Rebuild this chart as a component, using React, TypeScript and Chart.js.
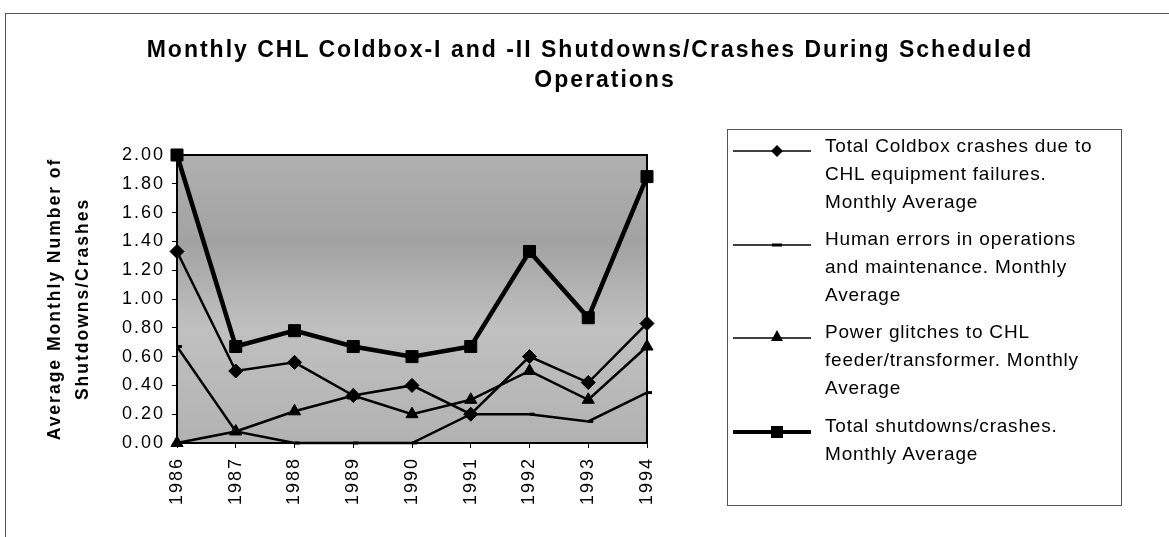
import React, { useEffect, useRef } from 'react';
import { Chart, registerables } from 'chart.js';

Chart.register(...registerables);

const years = ['1986', '1987', '1988', '1989', '1990', '1991', '1992', '1993', '1994'];
const coldboxCrashes = [1.33, 0.5, 0.56, 0.33, 0.4, 0.2, 0.6, 0.42, 0.83];
const humanErrors = [0.67, 0.08, 0.0, 0.0, 0.0, 0.2, 0.2, 0.15, 0.35];
const powerGlitches = [0.0, 0.08, 0.22, 0.33, 0.2, 0.3, 0.5, 0.3, 0.67];
const totalShutdowns = [2.0, 0.67, 0.78, 0.67, 0.6, 0.67, 1.33, 0.87, 1.85];

const yMin = 0;
const yMax = 2;
const yStep = 0.2;

const titleLine1 = 'Monthly CHL Coldbox-I and -II Shutdowns/Crashes During Scheduled';
const titleLine2 = 'Operations';
const yAxisTitle = ['Average Monthly Number of', 'Shutdowns/Crashes'];

const legendLabels = [
  ['Total Coldbox crashes due to', 'CHL equipment failures.', 'Monthly Average'],
  ['Human errors in operations', 'and maintenance. Monthly', 'Average'],
  ['Power glitches to CHL', 'feeder/transformer. Monthly', 'Average'],
  ['Total shutdowns/crashes.', 'Monthly Average'],
];

const FONT = '"Liberation Sans", Arial, Helvetica, sans-serif';

const plotFrame = {
  id: 'plotFrame',
  beforeUpdate(chart: any) {
    try {
      chart.ctx.letterSpacing = '2px';
    } catch (e) {}
  },
  beforeDraw(chart: any) {
    const { ctx, chartArea } = chart;
    const h = chartArea.bottom - chartArea.top;
    ctx.save();
    const g = ctx.createLinearGradient(0, chartArea.top, 0, chartArea.bottom);
    g.addColorStop(0, '#b0b0b0');
    g.addColorStop(0.3, '#a2a2a2');
    g.addColorStop(0.6, '#c0c0c0');
    g.addColorStop(1, '#b2b2b2');
    ctx.fillStyle = g;
    ctx.fillRect(chartArea.left, chartArea.top, chartArea.right - chartArea.left, h);
    ctx.restore();
  },
  beforeDatasetsDraw(chart: any) {
    const { ctx, chartArea } = chart;
    ctx.save();
    ctx.strokeStyle = '#000';
    ctx.lineWidth = 2;
    ctx.strokeRect(chartArea.left, chartArea.top, chartArea.right - chartArea.left, chartArea.bottom - chartArea.top);
    ctx.restore();
  },
};

export default function App() {
  const canvasRef = useRef<HTMLCanvasElement>(null);

  useEffect(() => {
    const canvas = canvasRef.current;
    if (!canvas) return;
    const chart = new Chart(canvas, {
      type: 'line',
      data: {
        labels: years,
        datasets: [
          {
            label: legendLabels[0].join(' '),
            data: coldboxCrashes,
            borderColor: '#000',
            backgroundColor: '#000',
            borderWidth: 2.5,
            pointStyle: 'rectRot',
            pointRadius: 7,
            pointBorderWidth: 1,
            tension: 0,
          },
          {
            label: legendLabels[1].join(' '),
            data: humanErrors,
            borderColor: '#000',
            backgroundColor: '#000',
            borderWidth: 2.5,
            pointStyle: 'dash',
            pointRadius: 5,
            pointBorderWidth: 3,
            tension: 0,
          },
          {
            label: legendLabels[2].join(' '),
            data: powerGlitches,
            borderColor: '#000',
            backgroundColor: '#000',
            borderWidth: 2.5,
            pointStyle: 'triangle',
            pointRadius: 7,
            pointBorderWidth: 1,
            tension: 0,
          },
          {
            label: legendLabels[3].join(' '),
            data: totalShutdowns,
            borderColor: '#000',
            backgroundColor: '#000',
            borderWidth: 4.5,
            pointStyle: 'rect',
            pointRadius: 8.5,
            pointBorderWidth: 1,
            tension: 0,
          },
        ],
      },
      options: {
        animation: false,
        responsive: false,
        devicePixelRatio: 1,
        clip: false as any,
        layout: { padding: { left: 0, top: 155, right: 522, bottom: 0 } },
        plugins: {
          legend: { display: false },
          title: { display: false },
          tooltip: { enabled: false },
        },
        scales: {
          x: {
            type: 'category',
            offset: false,
            grid: { display: true, drawOnChartArea: false, drawTicks: true, tickLength: 5, color: '#000', lineWidth: 1 },
            border: { display: true, color: '#000', width: 2 },
            ticks: {
              color: '#000',
              font: { family: FONT, size: 18 },
              minRotation: 90,
              maxRotation: 90,
              autoSkip: false,
              padding: 9,
            },
            afterFit(scale: any) {
              scale.height = 94;
            },
          },
          y: {
            min: yMin,
            max: yMax,
            grid: { display: true, drawOnChartArea: false, drawTicks: true, tickLength: 5, color: '#000', lineWidth: 1 },
            border: { display: true, color: '#000', width: 2 },
            ticks: {
              stepSize: yStep,
              color: '#000',
              font: { family: FONT, size: 18 },
              padding: 7,
              callback: (v: any) => Number(v).toFixed(2),
            },
            title: {
              display: true,
              text: yAxisTitle,
              color: '#000',
              font: { family: FONT, size: 17.5, weight: 'bold', lineHeight: 28 / 17.5 },
              padding: { top: 41, bottom: 0 },
            },
            afterFit(scale: any) {
              scale.width = 177;
            },
          },
        },
      },
      plugins: [plotFrame],
    } as any);
    return () => chart.destroy();
  }, []);

  const sampleYs = [151, 245, 338, 432];
  const itemTops = [132, 225, 318, 412];
  const lineX1 = 733;
  const lineX2 = 811;
  const mx = 777;

  return (
    <div
      style={{
        position: 'fixed',
        left: 0,
        top: 0,
        width: 1169,
        height: 537,
        overflow: 'hidden',
        background: '#fff',
        fontFamily: FONT,
        color: '#000',
      }}
    >
      <div
        style={{
          position: 'absolute',
          left: 5,
          top: 13,
          width: 1300,
          height: 700,
          borderTop: '1px solid #555',
          borderLeft: '1px solid #555',
        }}
      />
      <canvas
        ref={canvasRef}
        width={1169}
        height={537}
        style={{ position: 'absolute', left: 0, top: 0, width: 1169, height: 537 }}
      />
      <div
        style={{
          position: 'absolute',
          left: 0,
          top: 38,
          width: 1180,
          textAlign: 'center',
          fontWeight: 'bold',
          fontSize: 23,
          lineHeight: '23px',
          letterSpacing: '2px',
          whiteSpace: 'nowrap',
        }}
      >
        {titleLine1}
      </div>
      <div
        style={{
          position: 'absolute',
          left: 0,
          top: 68,
          width: 1210,
          textAlign: 'center',
          fontWeight: 'bold',
          fontSize: 23,
          lineHeight: '23px',
          letterSpacing: '2px',
          whiteSpace: 'nowrap',
        }}
      >
        {titleLine2}
      </div>
      <div
        style={{
          position: 'absolute',
          left: 727,
          top: 129,
          width: 395,
          height: 377,
          border: '1px solid #555',
          boxSizing: 'border-box',
        }}
      />
      {legendLabels.map((lines, i) => (
        <div
          key={i}
          style={{
            position: 'absolute',
            left: 825,
            top: itemTops[i],
            fontSize: 19,
            lineHeight: '28px',
            letterSpacing: '0.8px',
            whiteSpace: 'nowrap',
          }}
        >
          {lines.map((l, j) => (
            <div key={j}>{l}</div>
          ))}
        </div>
      ))}
      <svg
        width={1169}
        height={537}
        style={{ position: 'absolute', left: 0, top: 0, pointerEvents: 'none' }}
      >
        <line x1={lineX1} y1={sampleYs[0]} x2={lineX2} y2={sampleYs[0]} stroke="#000" strokeWidth={1.5} />
        <polygon
          points={`${mx},${sampleYs[0] - 6} ${mx + 6},${sampleYs[0]} ${mx},${sampleYs[0] + 6} ${mx - 6},${sampleYs[0]}`}
          fill="#000"
        />
        <line x1={lineX1} y1={sampleYs[1]} x2={lineX2} y2={sampleYs[1]} stroke="#000" strokeWidth={1.5} />
        <rect x={mx - 5} y={sampleYs[1] - 1.5} width={10} height={3} fill="#000" />
        <line x1={lineX1} y1={sampleYs[2]} x2={lineX2} y2={sampleYs[2]} stroke="#000" strokeWidth={1.5} />
        <polygon
          points={`${mx},${sampleYs[2] - 8} ${mx + 6},${sampleYs[2] + 3} ${mx - 6},${sampleYs[2] + 3}`}
          fill="#000"
        />
        <line x1={lineX1} y1={sampleYs[3]} x2={lineX2} y2={sampleYs[3]} stroke="#000" strokeWidth={4} />
        <rect x={mx - 6} y={sampleYs[3] - 6} width={12} height={12} fill="#000" />
      </svg>
    </div>
  );
}
